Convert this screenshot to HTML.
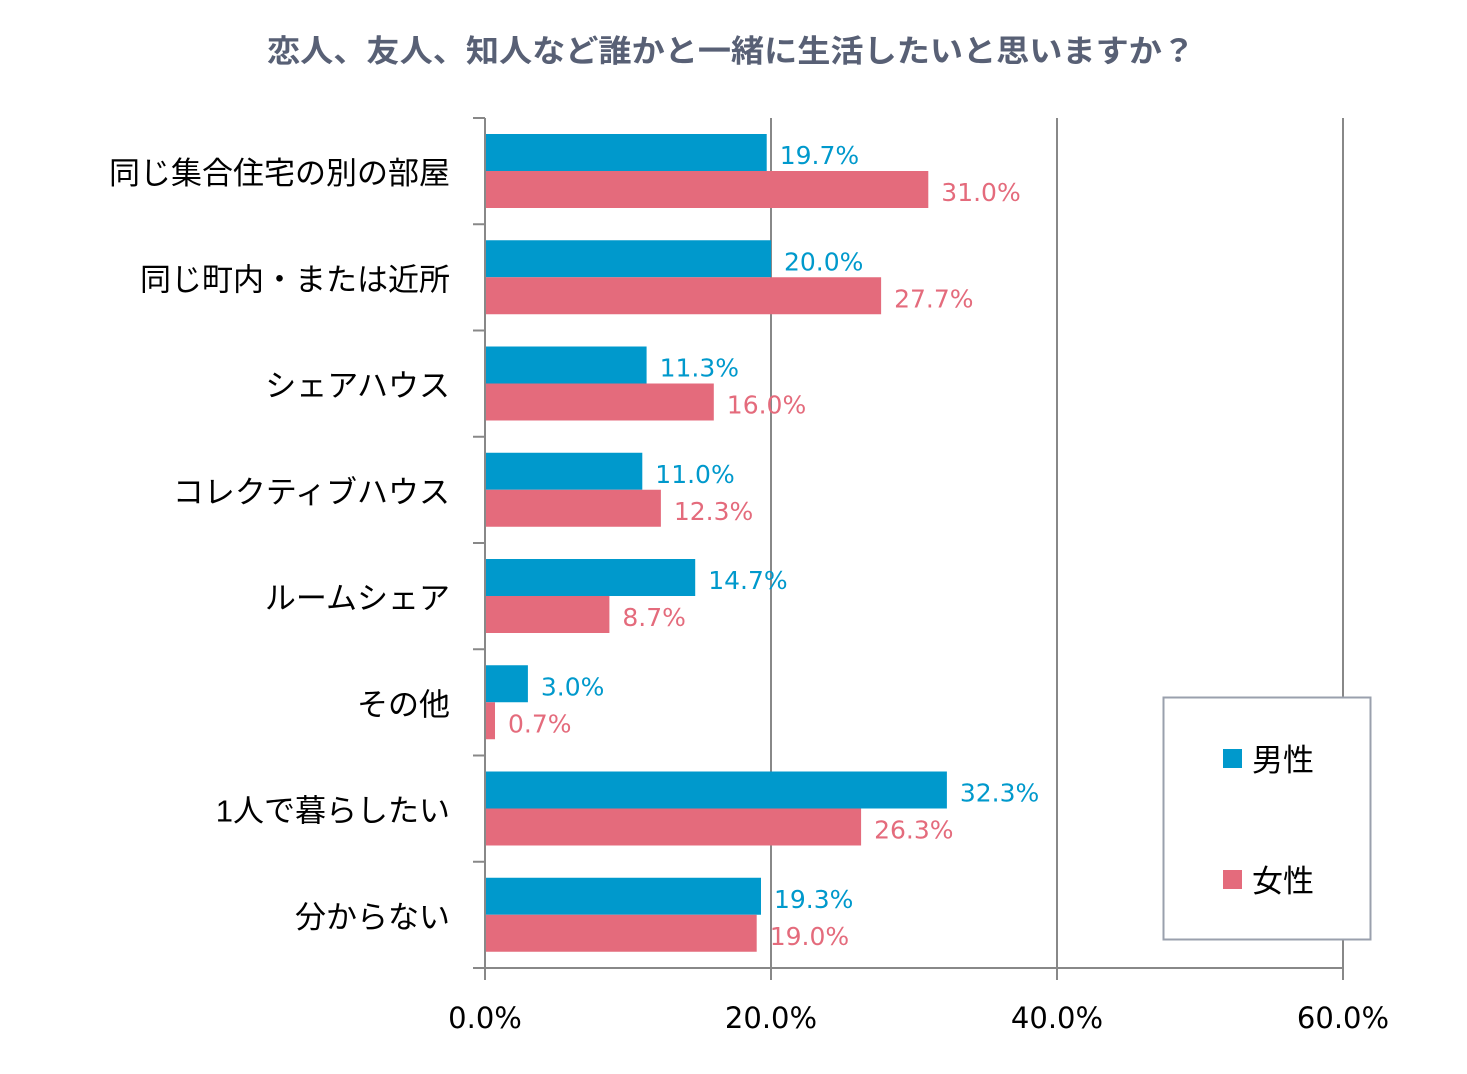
<!DOCTYPE html>
<html><head><meta charset="utf-8">
<style>
html,body{margin:0;padding:0;background:#fff;}
svg{display:block;}
text{font-family:"Liberation Sans","Noto Sans CJK JP",sans-serif;}
.num{font-family:"DejaVu Sans","Liberation Sans",sans-serif;}
</style></head>
<body>
<svg id="chart" width="1467" height="1074" viewBox="0 0 1467 1074">
<text x="267" y="62" textLength="928" lengthAdjust="spacingAndGlyphs" font-size="31" font-weight="bold" fill="#586075">恋人、友人、知人など誰かと一緒に生活したいと思いますか？</text>
<g id="grid"></g><g id="bars"></g><g id="axes"></g>
<g>
<rect x="1163.5" y="697.5" width="207" height="242" fill="#fff" stroke="#9aa0ad" stroke-width="2"/>
<rect x="1223" y="749" width="19" height="19" fill="#0099cc"/>
<text x="1252" y="771" font-size="31" fill="#000">男性</text>
<rect x="1223" y="870" width="19" height="19" fill="#e46b7c"/>
<text x="1252" y="892" font-size="31" fill="#000">女性</text>
</g>
</svg>
<script>
const categories=["同じ集合住宅の別の部屋","同じ町内・または近所","シェアハウス","コレクティブハウス","ルームシェア","その他","1人で暮らしたい","分からない"];
const maleValues=[19.7,20.0,11.3,11.0,14.7,3.0,32.3,19.3];
const femaleValues=[31.0,27.7,16.0,12.3,8.7,0.7,26.3,19.0];
const xTicks=[0,20,40,60];
const xTickLabels=["0.0%","20.0%","40.0%","60.0%"];
const NS="http://www.w3.org/2000/svg";
const x0=485,x1=1343,xMax=60,yTop=118,yBottom=968;
const band=(yBottom-yTop)/categories.length;
function xs(v){return x0+(x1-x0)*v/xMax;}
function mk(tag,attrs,parent){const e=document.createElementNS(NS,tag);for(const k in attrs)e.setAttribute(k,attrs[k]);parent.appendChild(e);return e;}
const grid=document.getElementById('grid'),bars=document.getElementById('bars'),axes=document.getElementById('axes');
xTicks.forEach((t,i)=>{
 const x=xs(t);
 if(i>0){const g=mk('line',{x1:x,x2:x,y1:yTop,y2:yBottom,stroke:'#888',"stroke-width":2},grid);
 
 }
 const tk=mk('line',{x1:x,x2:x,y1:yBottom,y2:yBottom+12,stroke:'#888',"stroke-width":2},axes);
 
 
 const tl=mk('text',{x:x,y:1028,"text-anchor":"middle","font-size":29,fill:'#000',"class":"num"},axes);
 tl.textContent=xTickLabels[i];
 
 
});
categories.forEach((c,i)=>{
 const y=yTop+band*i;
 const bh=37, by=y+16;
 const m=mk('rect',{x:x0,y:by,width:xs(maleValues[i])-x0,height:bh,fill:'#0099cc'},bars);
 
 
 const f=mk('rect',{x:x0,y:by+bh,width:xs(femaleValues[i])-x0,height:bh,fill:'#e46b7c'},bars);
 
 
 const ml=mk('text',{x:xs(maleValues[i])+13,y:by+30,"font-size":25,fill:'#0099cc',"class":"num"},bars);
 ml.textContent=maleValues[i].toFixed(1)+'%';
 
 
 const fl=mk('text',{x:xs(femaleValues[i])+13,y:by+bh+30,"font-size":25,fill:'#e46b7c',"class":"num"},bars);
 fl.textContent=femaleValues[i].toFixed(1)+'%';
 
 
 const cl=mk('text',{x:450,y:y+band/2+13,"text-anchor":"end","font-size":31,fill:'#000'},axes);
 cl.textContent=c;
 
 
});
for(let i=0;i<=categories.length;i++){
 const y=yTop+band*i;
 const t=mk('line',{x1:473,x2:x0,y1:y,y2:y,stroke:'#888',"stroke-width":2},axes);
 
 
}
const ya=mk('line',{x1:x0,x2:x0,y1:yTop,y2:yBottom,stroke:'#888',"stroke-width":2},axes);


const xa=mk('line',{x1:x0,x2:x1,y1:yBottom,y2:yBottom,stroke:'#888',"stroke-width":2},axes);


</script>
</body></html>
